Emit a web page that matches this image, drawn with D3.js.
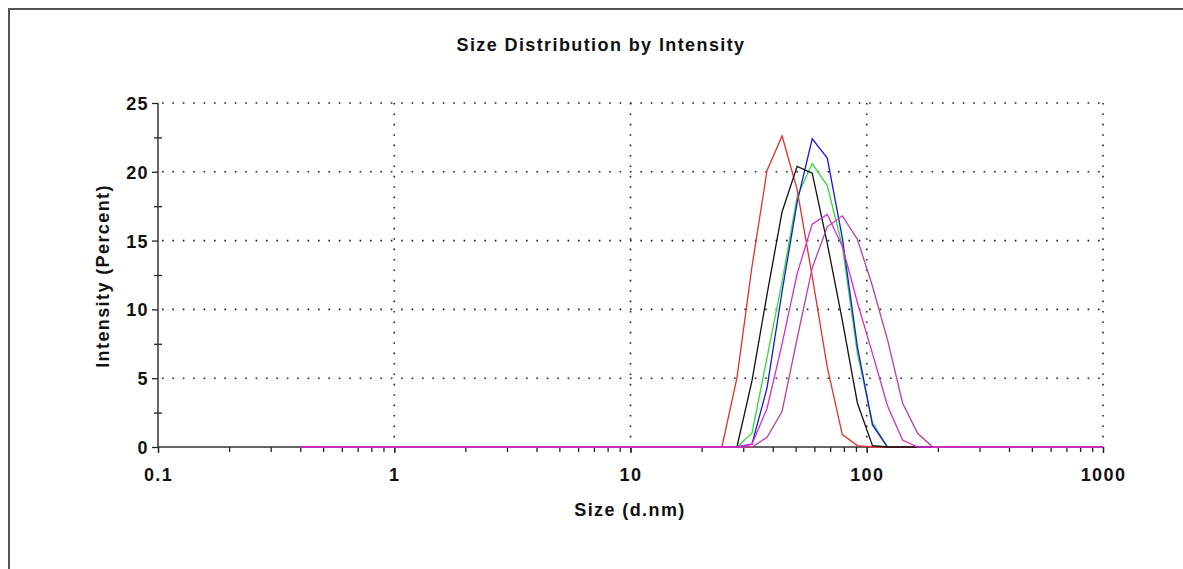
<!DOCTYPE html>
<html>
<head>
<meta charset="utf-8">
<script src="https://cdn.jsdelivr.net/npm/d3@7"></script>
<style>
  body { margin: 0; background: #fff; }
  text { font-family: 'Liberation Sans', Arial, sans-serif; font-weight: bold; letter-spacing: 1.4px; }
</style>
</head>
<body>
<svg id="chart" width="1183" height="569"></svg>
<script>
// size classes (d.nm)
const sizes = [0.4, 0.4632, 0.5365, 0.6213, 0.7195, 0.8332, 0.9649, 1.117, 1.294, 1.499,
  1.736, 2.010, 2.328, 2.696, 3.122, 3.615, 4.187, 4.849, 5.615, 6.503,
  7.531, 8.721, 10.10, 11.70, 13.54, 15.69, 18.17, 21.04, 24.36, 28.21,
  32.67, 37.84, 43.82, 50.75, 58.77, 68.06, 78.82, 91.28, 105.7, 122.4,
  141.8, 164.2, 190.1, 220.2, 255.0, 295.3, 342.0, 396.1, 458.7, 531.2,
  615.1, 712.4, 825.0, 955.4, 1106];

// intensity (%) per record
const greenVals = [0,0,0,0,0,0,0,0,0,0, 0,0,0,0,0,0,0,0,0,0, 0,0,0,0,0,0,0,0,0,0,
  1.0, 6.5, 12.0, 18.2, 20.6, 19.0, 14.6, 6.8, 1.8, 0, 0,0,0,0,0,0,0,0,0,0, 0,0,0,0,0];
const blueVals = [0,0,0,0,0,0,0,0,0,0, 0,0,0,0,0,0,0,0,0,0, 0,0,0,0,0,0,0,0,0,0,
  0.2, 4.3, 11.3, 17.8, 22.4, 21.0, 15.2, 7.3, 1.6, 0, 0,0,0,0,0,0,0,0,0,0, 0,0,0,0,0];
const redVals = [0,0,0,0,0,0,0,0,0,0, 0,0,0,0,0,0,0,0,0,0, 0,0,0,0,0,0,0,0,0,5.0,
  13.1, 20.1, 22.6, 18.7, 12.4, 5.8, 0.9, 0.1, 0, 0, 0,0,0,0,0,0,0,0,0,0, 0,0,0,0,0];
const blackVals = [0,0,0,0,0,0,0,0,0,0, 0,0,0,0,0,0,0,0,0,0, 0,0,0,0,0,0,0,0,0,0,
  4.8, 11.1, 17.1, 20.4, 19.9, 14.8, 9.2, 3.2, 0.1, 0, 0,0,0,0,0,0,0,0,0,0, 0,0,0,0,0];
const pinkVals = [0,0,0,0,0,0,0,0,0,0, 0,0,0,0,0,0,0,0,0,0, 0,0,0,0,0,0,0,0,0,0,
  0, 0.7, 2.6, 7.9, 13.0, 16.0, 16.8, 15.1, 11.7, 7.8, 3.2, 1.0, 0,0,0,0,0,0,0,0, 0,0,0,0,0];
const magentaVals = [0,0,0,0,0,0,0,0,0,0, 0,0,0,0,0,0,0,0,0,0, 0,0,0,0,0,0,0,0,0,0,
  0.2, 2.8, 7.5, 12.6, 16.2, 16.9, 14.6, 10.5, 6.8, 3.0, 0.5, 0, 0,0,0,0,0,0,0,0, 0,0,0,0,0];

const xLabels = ['0.1', '1', '10', '100', '1000'];
const yTicks = [0, 5, 10, 15, 20, 25];

const series = [
  { values: greenVals, color: '#2ee02e' },
  { values: blueVals, color: '#1818e0' },
  { values: redVals, color: '#e4312a' },
  { values: blackVals, color: '#111' },
  { values: pinkVals, color: '#c23c98' },
  { values: magentaVals, color: '#d62cd6' }
];

const margin = { top: 103, bottom: 122, left: 158, right: 80 };
const width = 1183, height = 569;

const svg = d3.select('#chart');

// outer frame
svg.append('rect')
  .attr('x', 9).attr('y', 9)
  .attr('width', 1300).attr('height', 700)
  .attr('fill', 'none')
  .attr('stroke', '#555')
  .attr('stroke-width', 2);

const x_scale = d3.scaleLog()
  .domain([0.1, 1000])
  .range([margin.left, width - margin.right]);

const y_scale = d3.scaleLinear()
  .domain([0, 25])
  .range([height - margin.bottom, margin.top]);

// dotted grid
const grid = svg.append('g')
  .attr('stroke', '#222')
  .attr('stroke-width', 1.6)
  .attr('stroke-dasharray', '1.6,8.8');

grid.selectAll('.hg')
  .data(yTicks.slice(1))
  .join('line')
  .attr('x1', margin.left + 4).attr('x2', x_scale(1000))
  .attr('y1', d => y_scale(d)).attr('y2', d => y_scale(d));

grid.selectAll('.vg')
  .data(xLabels.slice(1).map(Number))
  .join('line')
  .attr('x1', d => x_scale(d)).attr('x2', d => x_scale(d))
  .attr('y1', y_scale(25)).attr('y2', y_scale(0) - 4);

// x axis: minor ticks then major ticks with labels
svg.append('g')
  .attr('transform', `translate(0, ${y_scale(0)})`)
  .call(d3.axisBottom(x_scale).ticks(20).tickSize(5).tickFormat(''))
  .call(g => g.select('.domain').remove())
  .selectAll('line')
  .attr('stroke', '#222')
  .attr('stroke-width', 1.3);

svg.append('g')
  .attr('transform', `translate(0, ${y_scale(0)})`)
  .call(d3.axisBottom(x_scale).tickValues(xLabels.map(Number)).tickSize(6).tickFormat((d, i) => xLabels[i]))
  .call(g => g.select('.domain').remove())
  .call(g => g.selectAll('line').attr('stroke', '#222').attr('stroke-width', 1.3))
  .selectAll('text')
  .attr('y', 21)
  .style('font-size', '18px')
  .style('fill', '#111');

// y axis
svg.append('g')
  .attr('transform', `translate(${margin.left}, 0)`)
  .call(d3.axisLeft(y_scale).tickValues(d3.range(2.5, 25, 5)).tickSize(5).tickFormat(''))
  .call(g => g.select('.domain').remove())
  .selectAll('line')
  .attr('x2', -4).attr('x1', 4)
  .attr('stroke', '#222')
  .attr('stroke-width', 1.3);

svg.append('g')
  .attr('transform', `translate(${margin.left}, 0)`)
  .call(d3.axisLeft(y_scale).tickValues(yTicks).tickSize(6))
  .call(g => g.select('.domain').remove())
  .call(g => g.selectAll('line').attr('stroke', '#222').attr('stroke-width', 1.3))
  .selectAll('text')
  .attr('x', -9)
  .attr('dy', '0.36em')
  .style('font-size', '18px')
  .style('fill', '#111');

// axis lines
svg.append('line')
  .attr('x1', margin.left).attr('x2', margin.left)
  .attr('y1', y_scale(25)).attr('y2', y_scale(0))
  .attr('stroke', '#333').attr('stroke-width', 1.5);
svg.append('line')
  .attr('x1', margin.left).attr('x2', x_scale(1000))
  .attr('y1', y_scale(0)).attr('y2', y_scale(0))
  .attr('stroke', '#333').attr('stroke-width', 1.5);

// curves
svg.append('clipPath').attr('id', 'plot-clip')
  .append('rect')
  .attr('x', margin.left).attr('y', margin.top - 5)
  .attr('width', x_scale(1000) - margin.left).attr('height', y_scale(0) - margin.top + 10);

const line = d3.line()
  .x((d, i) => x_scale(sizes[i]))
  .y(d => y_scale(d));

svg.append('g')
  .attr('clip-path', 'url(#plot-clip)')
  .selectAll('path')
  .data(series)
  .join('path')
  .attr('d', d => line(d.values))
  .attr('fill', 'none')
  .attr('stroke', d => d.color)
  .attr('stroke-width', 1.3);

// titles
svg.append('text')
  .attr('x', 601).attr('y', 51)
  .attr('text-anchor', 'middle')
  .style('font-size', '18px')
  .style('fill', '#111')
  .text('Size Distribution by Intensity');

svg.append('text')
  .attr('x', 630).attr('y', 516)
  .attr('text-anchor', 'middle')
  .style('font-size', '18px')
  .style('fill', '#111')
  .text('Size (d.nm)');

svg.append('text')
  .attr('transform', `translate(109, 276) rotate(270)`)
  .attr('text-anchor', 'middle')
  .style('font-size', '18px')
  .style('fill', '#111')
  .text('Intensity (Percent)');
</script>
</body>
</html>
